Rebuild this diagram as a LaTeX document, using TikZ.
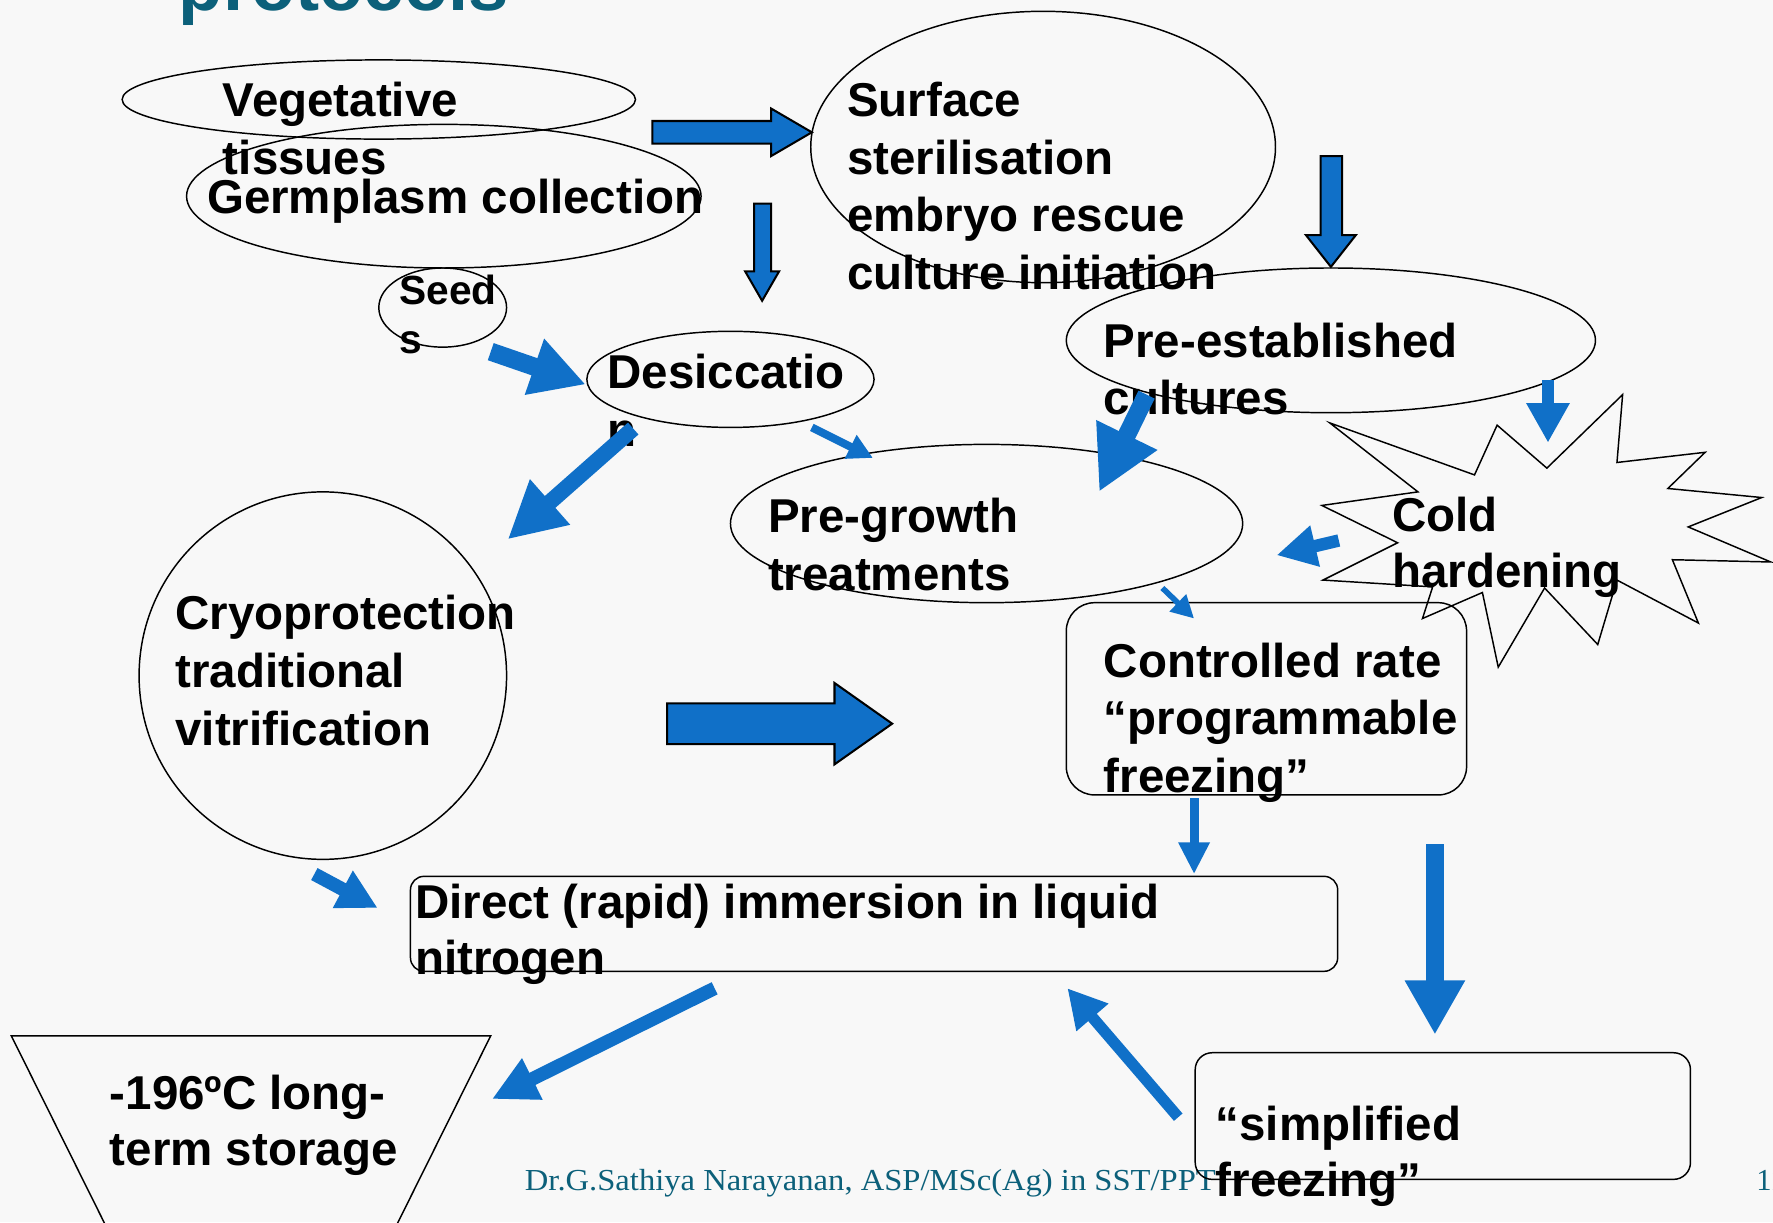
\documentclass[tikz,border=0pt]{standalone}
\usepackage{fontspec}
\setmainfont{Liberation Sans}
\newfontfamily\footfont{Liberation Serif}
\usetikzlibrary{shapes.geometric,arrows.meta}
\definecolor{arrowblue}{RGB}{16,112,200}
\definecolor{titleteal}{RGB}{12,96,122}
\definecolor{bgcol}{RGB}{248,248,248}
\begin{document}
\begin{tikzpicture}[x=1pt,y=-1pt,
  shp/.style={draw=black, line width=1.3pt},
  ell/.style={shp, ellipse, inner sep=0pt},
  rbox/.style={shp, rectangle, inner sep=0pt},
  txt/.style={anchor=base west, inner sep=0pt, font=\bfseries\fontsize{42}{50}\selectfont},
  stxt/.style={anchor=base west, inner sep=0pt, font=\bfseries\fontsize{36}{43}\selectfont},
  barrow/.style={fill=arrowblue, draw=black, line width=1.8pt, line join=miter},
  larr/.style n args={3}{draw=arrowblue, line width=#1, -{Triangle[length=#2, width=#3]}}
]
\useasboundingbox (0,0) rectangle (1568,1081);
\fill[bgcol] (0,0) rectangle (1568,1081);

% title (cut off)
\node[anchor=base west, inner sep=0pt, text=titleteal, font=\bfseries\fontsize{64}{70}\selectfont] (title) at (158,9.5) {protocols};

% footer
\node[anchor=base west, inner sep=0pt, text=titleteal, font=\footfont\fontsize{27}{30}\selectfont] (foot) at (464,1053) {\scalebox{1.068}[1]{Dr.G.Sathiya Narayanan, ASP/MSc(Ag) in SST/PPT}};
\node[anchor=base west, inner sep=0pt, text=titleteal, font=\footfont\fontsize{27}{30}\selectfont] (pagenum) at (1553,1053) {11};

% shapes
\node[ell, minimum width=454pt, minimum height=70pt] (veg) at (335,88) {};
\node[ell, minimum width=455pt, minimum height=127pt] (germ) at (392.5,173.5) {};
\node[ell, minimum width=113pt, minimum height=70pt] (seeds) at (391.5,272) {};
\node[ell, minimum width=411pt, minimum height=240pt] (surf) at (922.5,130) {};
\node[ell, minimum width=254pt, minimum height=85pt] (desic) at (646,335.5) {};
\node[ell, minimum width=468pt, minimum height=128pt] (preest) at (1177,301) {};
\node[ell, minimum width=453pt, minimum height=140pt] (pregr) at (872.5,463) {};
\node[ell, minimum width=325pt, minimum height=325pt] (cryo) at (285.5,597.5) {};
\node[rbox, rounded corners=25pt, minimum width=354pt, minimum height=170pt] (ctrl) at (1120,618) {};
\node[rbox, rounded corners=12pt, minimum width=820pt, minimum height=84pt] (direct) at (773,817) {};
\node[rbox, rounded corners=15pt, minimum width=438pt, minimum height=112pt] (simp) at (1276,987) {};

% storage trapezium (cut by page)
\draw[shp] (101.5,1100) -- (10,916) -- (434,916) -- (342.5,1100);

% cold hardening star
\draw[shp, line join=miter] (1176,374) -- (1304,420) -- (1324,376) -- (1368,414) -- (1435,349)
  -- (1430,409) -- (1508,400) -- (1475,432) -- (1558,440) -- (1493,466) -- (1566,497)
  -- (1479,495) -- (1502,551) -- (1430,513) -- (1413,570) -- (1366,520) -- (1325,590)
  -- (1311,524) -- (1258,547) -- (1267,519) -- (1170,513) -- (1236,480) -- (1169,447)
  -- (1254,435) -- cycle;

% texts
\node[txt] (vegA) at (197,103) {Vegetative};
\node[txt] (vegB) at (197,154) {tissues};
\node[txt] (germA) at (183,189) {Germplasm collection};
\node[stxt] (seedA) at (353,269) {Seed};
\node[stxt] (seedB) at (353,313) {s};
\node[txt] (surfA) at (749,103) {Surface};
\node[txt] (surfB) at (749,154) {sterilisation};
\node[txt] (surfC) at (749,205) {embryo rescue};
\node[txt] (surfD) at (749,256) {culture initiation};
\node[txt] (desA) at (537,344) {Desiccatio};
\node[txt] (desB) at (537,395) {n};
\node[txt] (preA) at (976,316) {Pre-established};
\node[txt] (preB) at (976,367) {cultures};
\node[txt] (pgA) at (679,471) {Pre-growth};
\node[txt] (pgB) at (679,522) {treatments};
\node[txt] (cryA) at (155,557) {Cryoprotection};
\node[txt] (cryB) at (155,608) {traditional};
\node[txt] (cryC) at (155,659) {vitrification};
\node[txt] (coldA) at (1231,470) {Cold};
\node[txt] (coldB) at (1231,520) {hardening};
\node[txt] (ctrlA) at (976,599) {Controlled rate};
\node[txt] (ctrlB) at (976,650) {“programmable};
\node[txt] (ctrlC) at (976,701) {freezing”};
\node[txt] (dirA) at (367,812) {Direct (rapid) immersion in liquid};
\node[txt] (dirB) at (367,862) {nitrogen};
\node[txt] (simA) at (1075,1009) {“simplified};
\node[txt] (simB) at (1075,1058) {freezing”};
\node[txt] (stoA) at (97,981) {-196ºC long-};
\node[txt] (stoB) at (97,1031) {term storage};

% block arrows with outline
\draw[barrow] (577,107) -- (682,107) -- (682,96) -- (718,117) -- (682,138) -- (682,127) -- (577,127) -- cycle;
\draw[barrow] (590,622) -- (738,622) -- (738,604) -- (789,640) -- (738,676) -- (738,658) -- (590,658) -- cycle;
\draw[barrow] (667,180) -- (682,180) -- (682,240) -- (689,240) -- (674,266) -- (659,240) -- (667,240) -- cycle;
\draw[barrow] (1168,138) -- (1187,138) -- (1187,208) -- (1199,208) -- (1177,236) -- (1155,208) -- (1168,208) -- cycle;

% line arrows
\coordinate (a4s) at (434,311);   \coordinate (a4e) at (518,340);
\coordinate (a5s) at (560,379);   \coordinate (a5e) at (449,477);
\coordinate (a6s) at (718,378);   \coordinate (a6e) at (772,405);
\coordinate (a7s) at (1014,349);  \coordinate (a7e) at (972,435);
\coordinate (a8s) at (1369,336);  \coordinate (a8e) at (1369,391.5);
\coordinate (a9s) at (1184,478);  \coordinate (a9e) at (1129,491);
\coordinate (a10s) at (1028,520); \coordinate (a10e) at (1056,547);
\coordinate (a12s) at (278,773);  \coordinate (a12e) at (334,803);
\coordinate (a13s) at (1056,706); \coordinate (a13e) at (1056,773);
\coordinate (a14s) at (1269,746.5); \coordinate (a14e) at (1269,915);
\coordinate (a15s) at (632,874);  \coordinate (a15e) at (435,972);
\coordinate (a16s) at (1042,988); \coordinate (a16e) at (944,874);

\draw[larr={16pt}{48pt}{49pt}] (a4s) -- (a4e);
\draw[larr={14pt}{50pt}{50pt}] (a5s) -- (a5e);
\draw[larr={7pt}{22pt}{22pt}] (a6s) -- (a6e);
\draw[larr={16pt}{56pt}{56pt}] (a7s) -- (a7e);
\draw[larr={10pt}{35pt}{36pt}] (a8s) -- (a8e);
\draw[larr={11pt}{35pt}{35pt}] (a9s) -- (a9e);
\draw[larr={5pt}{20pt}{20pt}] (a10s) -- (a10e);
\draw[larr={12pt}{35pt}{35pt}] (a12s) -- (a12e);
\draw[larr={8pt}{28pt}{26pt}] (a13s) -- (a13e);
\draw[larr={16pt}{48pt}{50pt}] (a14s) -- (a14e);
\draw[larr={12pt}{40pt}{38pt}] (a15s) -- (a15e);
\draw[larr={10pt}{34pt}{35pt}] (a16s) -- (a16e);
\end{tikzpicture}
\end{document}
